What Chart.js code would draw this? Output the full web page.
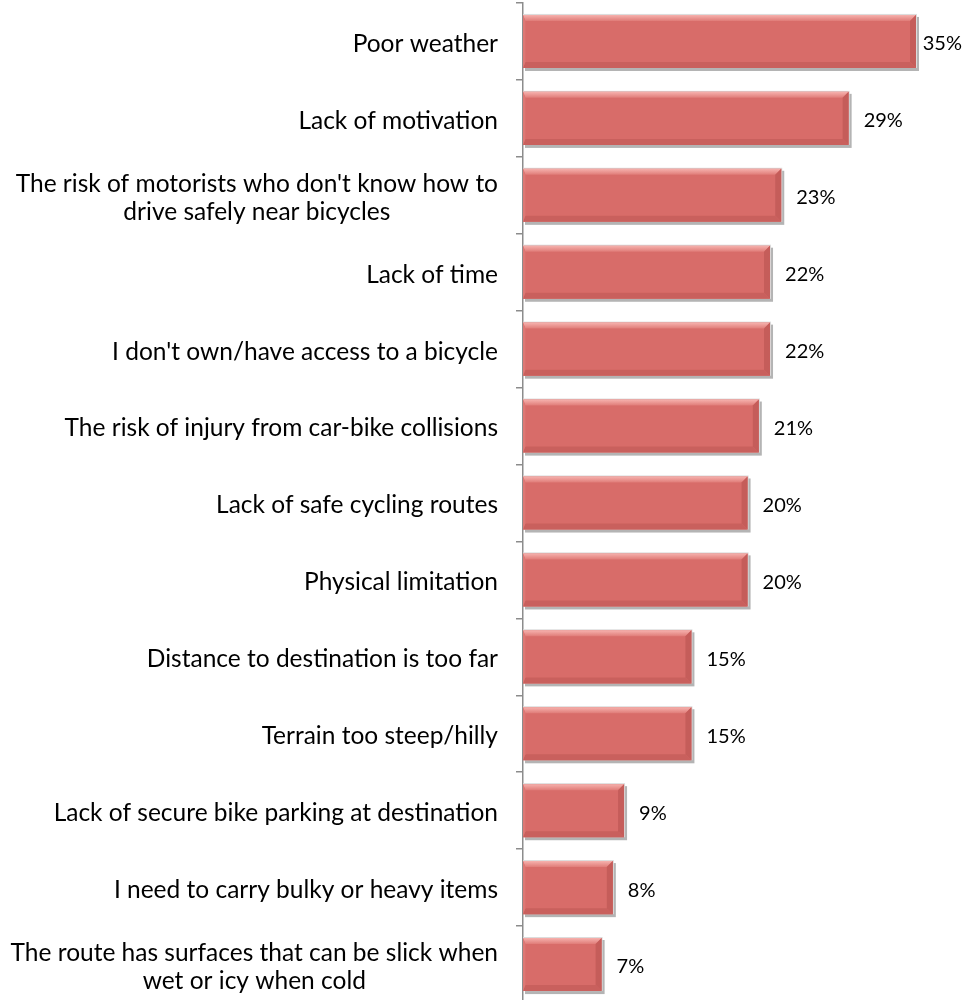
<!DOCTYPE html>
<html>
<head>
<meta charset="utf-8">
<script src="https://cdn.jsdelivr.net/npm/chart.js@4.4.0/dist/chart.umd.min.js"></script>
<style>
  html, body { margin: 0; padding: 0; background: #fff; overflow: hidden; }
  #wrap { width: 966px; height: 1003px; }
</style>
</head>
<body>
<div id="wrap"><canvas id="barrierChart"></canvas></div>
<script>
// Barriers to cycling, share of respondents
const categories = [
  "Poor weather",
  "Lack of motivation",
  ["The risk of motorists who don't know how to", "drive safely near bicycles"],
  "Lack of time",
  "I don't own/have access to a bicycle",
  "The risk of injury from car-bike collisions",
  "Lack of safe cycling routes",
  "Physical limitation",
  "Distance to destination is too far",
  "Terrain too steep/hilly",
  "Lack of secure bike parking at destination",
  "I need to carry bulky or heavy items",
  ["The route has surfaces that can be slick when", "wet or icy when cold"]
];
const percents = [35, 29, 23, 22, 22, 21, 20, 20, 15, 15, 9, 8, 7];
const percentLabels = ["35%", "29%", "23%", "22%", "22%", "21%", "20%", "20%", "15%", "15%", "9%", "8%", "7%"];

const FONT = "Lato, 'Open Sans', sans-serif";
const BAR_FILL = "#d86c69";
const TEXT_SHIFT = 2.5;

// shadow behind each bar and a bevel on top of it
const bevelBars = {
  id: "bevelBars",
  beforeDatasetsDraw(chart) {
    const ctx = chart.ctx;
    chart.getDatasetMeta(0).data.forEach(bar => {
      const l = bar.base, r = bar.x, t = bar.y - bar.height / 2, b = bar.y + bar.height / 2;
      ctx.save();
      ctx.fillStyle = "#b4b4b4";
      ctx.fillRect(l + 2, t + 2, r - l + 1, b - t + 1);
      ctx.fillStyle = "#dcdcdc";
      ctx.fillRect(l, t - 1, r - l + 1, b - t + 1);
      ctx.restore();
    });
  },
  afterDatasetsDraw(chart) {
    const ctx = chart.ctx;
    const e = 6;
    chart.getDatasetMeta(0).data.forEach(bar => {
      const l = bar.base, r = bar.x, t = bar.y - bar.height / 2, b = bar.y + bar.height / 2;
      ctx.save();
      // top bevel
      let g = ctx.createLinearGradient(0, t, 0, t + e);
      g.addColorStop(0, "#f6b2ae");
      g.addColorStop(1, "#e07c78");
      ctx.fillStyle = g;
      ctx.beginPath();
      ctx.moveTo(l, t); ctx.lineTo(r, t); ctx.lineTo(r - e, t + e); ctx.lineTo(l + e * 0.4, t + e); ctx.closePath();
      ctx.fill();
      // right bevel
      ctx.fillStyle = "#c55d5a";
      ctx.beginPath();
      ctx.moveTo(r, t); ctx.lineTo(r, b); ctx.lineTo(r - e, b - e); ctx.lineTo(r - e, t + e); ctx.closePath();
      ctx.fill();
      // bottom bevel
      ctx.fillStyle = "#c9605d";
      ctx.beginPath();
      ctx.moveTo(l, b); ctx.lineTo(r, b); ctx.lineTo(r - e, b - e); ctx.lineTo(l + e * 0.4, b - e); ctx.closePath();
      ctx.fill();
      // left bevel
      ctx.fillStyle = "#de7874";
      ctx.beginPath();
      ctx.moveTo(l, t); ctx.lineTo(l + e * 0.4, t + e); ctx.lineTo(l + e * 0.4, b - e); ctx.lineTo(l, b); ctx.closePath();
      ctx.fill();
      ctx.restore();
    });
  }
};

// category names right of the axis box, multi-line ones centred on each other
const categoryLabels = {
  id: "categoryLabels",
  afterDraw(chart) {
    const ctx = chart.ctx;
    const yScale = chart.scales.y;
    const right = yScale.right - 25;
    const lineH = 28;
    ctx.save();
    ctx.font = "24.5px " + FONT;
    ctx.fillStyle = "#000";
    ctx.textBaseline = "middle";
    ctx.textAlign = "center";
    categories.forEach((cat, i) => {
      const lines = Array.isArray(cat) ? cat : [cat];
      const w = Math.max(...lines.map(s => ctx.measureText(s).width));
      const cx = right - w / 2;
      const y0 = yScale.getPixelForTick(i) + TEXT_SHIFT - (lines.length - 1) * lineH / 2;
      lines.forEach((s, k) => ctx.fillText(s, cx, y0 + k * lineH));
    });
    ctx.restore();
  }
};

// percent labels just past the end of each bar
const valueLabels = {
  id: "valueLabels",
  afterDraw(chart) {
    const ctx = chart.ctx;
    ctx.save();
    ctx.font = "20px " + FONT;
    ctx.fillStyle = "#000";
    ctx.textBaseline = "middle";
    ctx.textAlign = "left";
    chart.getDatasetMeta(0).data.forEach((bar, i) => {
      const txt = percentLabels[i];
      const w = ctx.measureText(txt).width;
      const x = Math.min(bar.x + 15, chart.width - w - 4);
      ctx.fillText(txt, x, bar.y + TEXT_SHIFT);
    });
    ctx.restore();
  }
};

new Chart(document.getElementById("barrierChart"), {
  type: "bar",
  data: {
    labels: categories,
    datasets: [{
      data: percents,
      backgroundColor: BAR_FILL,
      borderWidth: 0,
      categoryPercentage: 1,
      barPercentage: 0.69
    }]
  },
  options: {
    indexAxis: "y",
    responsive: true,
    maintainAspectRatio: false,
    animation: false,
    layout: { padding: { left: 0, right: 50, top: 3, bottom: 0 } },
    plugins: {
      legend: { display: false },
      tooltip: { enabled: false }
    },
    scales: {
      x: {
        display: false,
        min: 0,
        max: 35
      },
      y: {
        ticks: { display: false },
        grid: {
          offset: true,
          drawOnChartArea: false,
          drawTicks: true,
          tickLength: 7,
          color: "#8c8c8c",
          lineWidth: 1.5
        },
        border: { color: "#8c8c8c", width: 1.5 },
        afterFit(scale) { scale.width = 523; }
      }
    }
  },
  plugins: [bevelBars, categoryLabels, valueLabels]
});
</script>
</body>
</html>
